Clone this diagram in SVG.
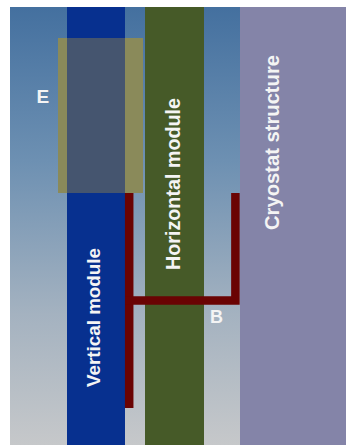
<svg xmlns="http://www.w3.org/2000/svg" width="346" height="445" viewBox="0 0 346 445">
  <defs>
    <linearGradient id="bgGrad" x1="0" y1="0" x2="0" y2="1">
      <stop offset="0" stop-color="#44709f"/>
      <stop offset="0.35" stop-color="#6d90b2"/>
      <stop offset="0.7" stop-color="#a4b2c0"/>
      <stop offset="1" stop-color="#c6c8ca"/>
    </linearGradient>
    <style>
      .lbl { font-family: "Liberation Sans", Arial, sans-serif; font-weight: bold; fill: #f4f4f4; }
      .vlbl { text-anchor: middle; }
      .bracket { fill: none; stroke: #6a0303; stroke-width: 8.5; stroke-linejoin: miter; stroke-linecap: butt; }
    </style>
  </defs>

  <rect x="0" y="0" width="346" height="445" fill="#ffffff"/>
  <!-- background space -->
  <rect id="background" x="10" y="7" width="230" height="438" fill="url(#bgGrad)"/>

  <!-- overlapping zone -->
  <g id="overlap">
    <rect x="58" y="38" width="85" height="155" fill="#8a8a5a"/>
  </g>

  <g id="vertical-module">
    <rect x="67" y="7" width="58" height="438" fill="#07308f"/>
    <rect x="67" y="38" width="58" height="155" fill="#45556f"/>
    <text class="lbl vlbl" font-size="19" textLength="139" lengthAdjust="spacingAndGlyphs" transform="translate(100,317.5) rotate(-90)">Vertical module</text>
  </g>

  <g id="horizontal-module">
    <rect x="145" y="7" width="59" height="438" fill="#465a28"/>
    <text class="lbl vlbl" font-size="20" textLength="172" lengthAdjust="spacingAndGlyphs" transform="translate(180,184) rotate(-90)">Horizontal module</text>
  </g>

  <g id="cryostat-structure">
    <rect x="240" y="7" width="106" height="438" fill="#8484a8"/>
    <text class="lbl vlbl" font-size="20" textLength="175" lengthAdjust="spacingAndGlyphs" transform="translate(279,142.5) rotate(-90)">Cryostat structure</text>
  </g>

  <!-- support bracket -->
  <g id="connectors">
    <path class="bracket" d="M129.2,193 V408"/>
    <path class="bracket" d="M125,300.4 H235.4 V193"/>
  </g>

  <g id="label-e">
    <text class="lbl" x="36.5" y="102.5" font-size="19">E</text>
  </g>
  <g id="label-b">
    <text class="lbl" x="210" y="323" font-size="18">B</text>
  </g>
</svg>
